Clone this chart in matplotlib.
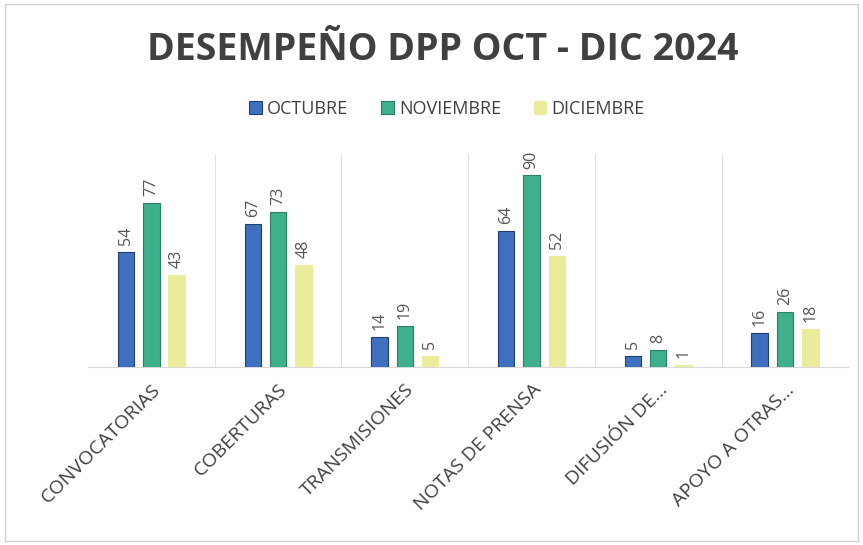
#!/usr/bin/env python3
"""Desempeño DPP Oct - Dic 2024: barras agrupadas por mes."""

import matplotlib.pyplot as plt
plt.switch_backend('agg')
import numpy as np

categories = ['CONVOCATORIAS', 'COBERTURAS', 'TRANSMISIONES',
              'NOTAS DE PRENSA', 'DIFUSIÓN DE...', 'APOYO A OTRAS...']
months = ['OCTUBRE', 'NOVIEMBRE', 'DICIEMBRE']
octubre = [54, 67, 14, 64, 5, 16]
noviembre = [77, 73, 19, 90, 8, 26]
diciembre = [43, 48, 5, 52, 1, 18]

colors = ['#3f6fbf', '#3fb08c', '#ebeb9c']
edges = ['#1f3f70', '#2c7f66', '#ebeb9c']
text_color = '#404040'

plt.rcParams['font.family'] = ['Open Sans', 'DejaVu Sans']

fig = plt.figure(figsize=(8.63, 5.45), dpi=100)
ax = fig.add_axes([0.102, 0.327, 0.881, 0.39])

x = np.arange(len(categories))
offsets = [-0.2, 0.0, 0.2]
series = [octubre, noviembre, diciembre]

handles = []
for vals, off, c, e, name in zip(series, offsets, colors, edges, months):
    bars = ax.bar(x + off, vals, width=0.13, color=c, edgecolor=e,
                  linewidth=0.8, label=name, zorder=3)
    handles.append(bars)
    for b, v in zip(bars, vals):
        ax.annotate(str(v), (b.get_x() + b.get_width() / 2, v),
                    xytext=(0, 5), textcoords='offset points',
                    rotation=90, ha='center', va='bottom',
                    fontsize=11.5, color='#555555')

ax.set_xlim(-0.5, len(categories) - 0.5)
ax.set_ylim(0, 100)
ax.set_yticks([])
ax.set_xticks(x)
ax.set_xticklabels(categories, rotation=45, ha='right',
                   rotation_mode='anchor', fontsize=14, color=text_color)
ax.tick_params(axis='x', length=0, pad=10)

# category separators
ax.set_xticks(np.arange(0.5, len(categories) - 0.5), minor=True)
ax.tick_params(axis='x', which='minor', length=0)
ax.grid(axis='x', which='minor', color='#e2e2e2', linewidth=0.8, zorder=0)

for s in ['top', 'right', 'left']:
    ax.spines[s].set_visible(False)
ax.spines['bottom'].set_color('#d9d9d9')

fig.text(0.513, 0.908, 'DESEMPEÑO DPP OCT - DIC 2024', ha='center',
         va='center', fontsize=27, fontweight='bold', color=text_color)

fig.legend(handles, months, loc='center', bbox_to_anchor=(0.518, 0.8),
           ncol=3, frameon=False, fontsize=13, handlelength=0.7,
           handleheight=0.7, columnspacing=1.8, handletextpad=0.3,
           labelcolor=text_color)

# faint chart border
fig.patches.append(plt.Rectangle((0.006, 0.008), 0.988, 0.984,
                                 transform=fig.transFigure, fill=False,
                                 edgecolor='#d0d0d0', linewidth=1))

plt.savefig('out.png', dpi=100)
